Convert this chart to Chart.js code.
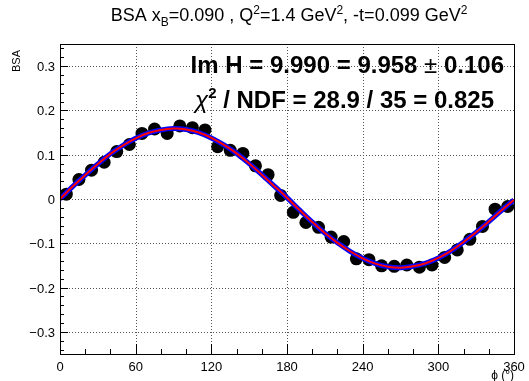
<!DOCTYPE html>
<html>
<head>
<meta charset="utf-8">
<script src="https://cdn.jsdelivr.net/npm/chart.js@4.4.1/dist/chart.umd.min.js"></script>
<style>
  html, body { margin: 0; padding: 0; background: #fff; }
  canvas { display: block; }
</style>
</head>
<body>
<canvas id="bsa-chart" width="529" height="381"></canvas>
<script>
// measured asymmetry per phi bin
const phiBins = [5, 15, 25, 35, 45, 55, 65, 75, 85, 95, 105, 115, 125, 135, 145, 155, 165, 175,
                 185, 195, 205, 215, 225, 235, 245, 255, 265, 275, 285, 295, 305, 315, 325, 335, 345, 355];
const bsaValues = [0.011, 0.044, 0.065, 0.083, 0.107, 0.123, 0.148, 0.158, 0.148, 0.165, 0.161, 0.156,
                   0.118, 0.110, 0.103, 0.075, 0.055, 0.008, -0.030, -0.053, -0.064, -0.086, -0.096, -0.135,
                   -0.137, -0.151, -0.152, -0.149, -0.154, -0.149, -0.132, -0.115, -0.091, -0.062, -0.023, -0.017];

// fitted curve sampled every 10 degrees
const fitPhi = [0, 10, 20, 30, 40, 50, 60, 70, 80, 90, 100, 110, 120, 130, 140, 150, 160, 170, 180,
                190, 200, 210, 220, 230, 240, 250, 260, 270, 280, 290, 300, 310, 320, 330, 340, 350, 360];
const fitValues = [0.000, 0.028, 0.054, 0.079, 0.102, 0.121, 0.137, 0.149, 0.156, 0.159, 0.157, 0.150,
                   0.138, 0.122, 0.103, 0.080, 0.055, 0.029, 0.003, -0.025, -0.052, -0.077, -0.099, -0.118,
                   -0.134, -0.146, -0.153, -0.155, -0.152, -0.145, -0.133, -0.117, -0.097, -0.075, -0.051,
                   -0.026, -0.002];

const xTicks = [0, 60, 120, 180, 240, 300, 360];
const yTicks = [-0.3, -0.2, -0.1, 0, 0.1, 0.2, 0.3];
const yLabels = ['\u22120.3', '\u22120.2', '\u22120.1', '0', '0.1', '0.2', '0.3'];

const FONT = '"Liberation Sans", Arial, Helvetica, sans-serif';

function toPoints(xs, ys) {
    return xs.map((x, i) => ({ x: x, y: ys[i] }));
}

// draws a run of text pieces, some raised or lowered
function drawRich(ctx, parts, x, y, align) {
    let total = 0;
    parts.forEach(p => {
        ctx.font = p.font;
        p.w = ctx.measureText(p.t).width;
        total += p.w;
    });
    let cx = align === 'center' ? x - total / 2 : (align === 'right' ? x - total : x);
    ctx.textAlign = 'left';
    ctx.textBaseline = 'alphabetic';
    parts.forEach(p => {
        ctx.font = p.font;
        ctx.fillText(p.t, cx, y + (p.dy || 0));
        cx += p.w;
    });
}

const rootFrame = {
    id: 'rootFrame',
    beforeDatasetsDraw(chart) {
        const ctx = chart.ctx;
        const area = chart.chartArea;
        const xs = chart.scales.x, ys = chart.scales.y;
        ctx.save();
        ctx.strokeStyle = '#555';
        ctx.lineWidth = 1;
        ctx.setLineDash([1, 2]);
        xTicks.forEach(v => {
            if (v === 0 || v === 360) return;
            const px = Math.round(xs.getPixelForValue(v)) + 0.5;
            ctx.beginPath();
            ctx.moveTo(px, area.top);
            ctx.lineTo(px, area.bottom);
            ctx.stroke();
        });
        yTicks.forEach(v => {
            const py = Math.round(ys.getPixelForValue(v)) + 0.5;
            ctx.beginPath();
            ctx.moveTo(area.left, py);
            ctx.lineTo(area.right, py);
            ctx.stroke();
        });
        ctx.restore();
    },
    afterDatasetsDraw(chart) {
        const ctx = chart.ctx;
        const area = chart.chartArea;
        const xs = chart.scales.x, ys = chart.scales.y;
        ctx.save();
        ctx.strokeStyle = '#000';
        ctx.lineWidth = 1;
        ctx.setLineDash([]);
        ctx.strokeRect(Math.round(area.left) + 0.5, Math.round(area.top) + 0.5,
                       Math.round(area.right - area.left), Math.round(area.bottom - area.top));

        // x ticks: major every 60, minor every 20
        for (let v = 0; v <= 360; v += 20) {
            const px = Math.round(xs.getPixelForValue(v)) + 0.5;
            const len = v % 60 === 0 ? 10 : 5;
            ctx.beginPath();
            ctx.moveTo(px, area.bottom);
            ctx.lineTo(px, area.bottom - len);
            ctx.stroke();
        }
        // y ticks: major every 0.1, minor every 0.02
        for (let i = -17; i <= 17; i++) {
            const py = Math.round(ys.getPixelForValue(i * 0.02)) + 0.5;
            const len = i % 5 === 0 ? 8 : 4;
            ctx.beginPath();
            ctx.moveTo(area.left, py);
            ctx.lineTo(area.left + len, py);
            ctx.stroke();
        }

        ctx.fillStyle = '#000';
        ctx.font = '13px ' + FONT;
        ctx.textBaseline = 'alphabetic';
        ctx.textAlign = 'center';
        xTicks.forEach(v => {
            ctx.fillText(String(v), xs.getPixelForValue(v), area.bottom + 17);
        });
        ctx.textAlign = 'right';
        yTicks.forEach((v, i) => {
            ctx.fillText(yLabels[i], area.left - 5, ys.getPixelForValue(v) + 5);
        });

        // axis titles
        ctx.font = '12px ' + FONT;
        ctx.textAlign = 'right';
        ctx.fillText('\u03d5 (\u00b0)', area.right, 379);
        ctx.save();
        ctx.translate(20, 50);
        ctx.rotate(-Math.PI / 2);
        ctx.font = '11px ' + FONT;
        ctx.textAlign = 'right';
        ctx.fillText('BSA', 0, 0);
        ctx.restore();

        // title
        const t = '18px ' + FONT, s = '12px ' + FONT;
        drawRich(ctx, [
            { t: 'BSA x', font: t }, { t: 'B', font: s, dy: 5 },
            { t: '=0.090 , Q', font: t }, { t: '2', font: s, dy: -7 },
            { t: '=1.4 GeV', font: t }, { t: '2', font: s, dy: -7 },
            { t: ', -t=0.099 GeV', font: t }, { t: '2', font: s, dy: -7 }
        ], 289, 21, 'center');

        // fit result
        const b = 'bold 24px ' + FONT, r = '24px ' + FONT;
        drawRich(ctx, [
            { t: 'Im H = 9.990 = 9.958 ', font: b }, { t: '\u00b1', font: r }, { t: ' 0.106', font: b }
        ], 504, 73, 'right');
        drawRich(ctx, [
            { t: '\u03c7', font: 'italic 24px ' + FONT }, { t: '2', font: 'bold 15px ' + FONT, dy: -10 },
            { t: ' / NDF = 28.9 / 35 = 0.825', font: b }
        ], 494, 108, 'right');
        ctx.restore();
    }
};

new Chart(document.getElementById('bsa-chart').getContext('2d'), {
    type: 'scatter',
    data: {
        datasets: [
            {
                label: 'fit',
                data: toPoints(fitPhi, fitValues),
                showLine: true,
                borderColor: '#ff0000',
                borderWidth: 2,
                pointRadius: 0,
                tension: 0.4,
                order: 1
            },
            {
                label: 'model',
                data: toPoints(fitPhi, fitValues),
                showLine: true,
                borderColor: '#0000ff',
                borderWidth: 5,
                pointRadius: 0,
                tension: 0.4,
                order: 2
            },
            {
                label: 'BSA',
                data: toPoints(phiBins, bsaValues),
                backgroundColor: '#000',
                borderColor: '#000',
                pointRadius: 6.5,
                borderWidth: 0,
                order: 3
            }
        ]
    },
    options: {
        responsive: false,
        animation: false,
        devicePixelRatio: 1,
        layout: { padding: { left: 60, right: 15, top: 44, bottom: 27 } },
        plugins: { legend: { display: false }, tooltip: { enabled: false } },
        scales: {
            x: { type: 'linear', display: false, min: 0, max: 360 },
            y: { type: 'linear', display: false, min: -0.35, max: 0.35 }
        }
    },
    plugins: [rootFrame]
});
</script>
</body>
</html>
